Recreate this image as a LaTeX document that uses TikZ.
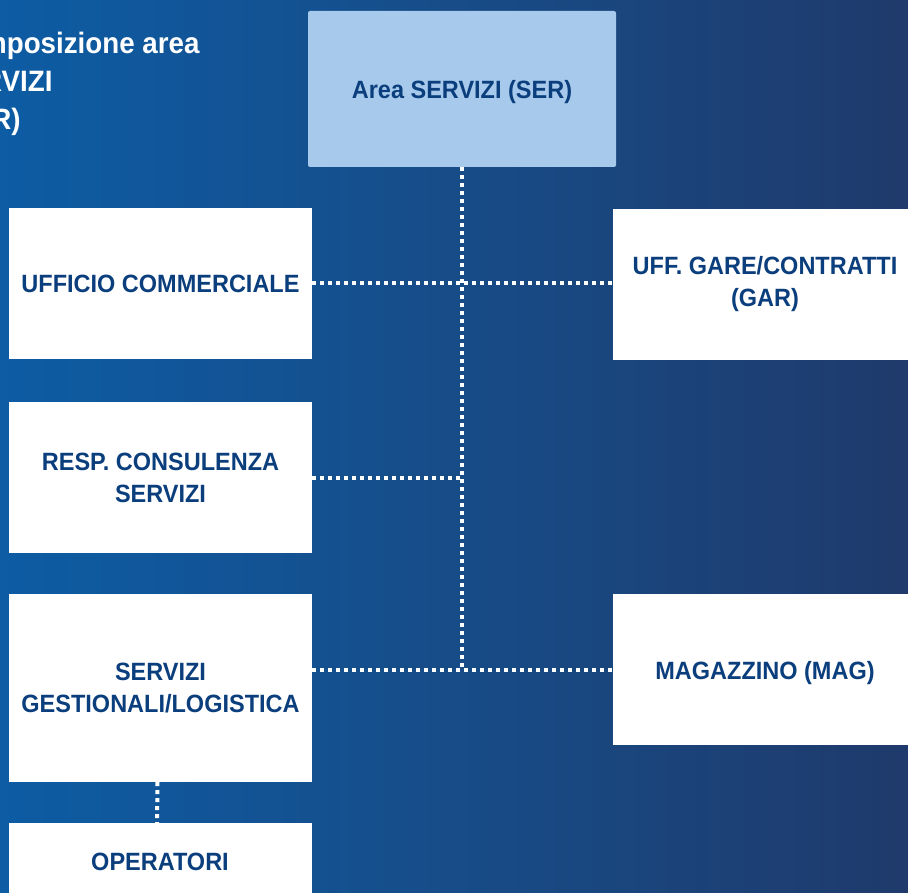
\documentclass[tikz,border=0pt]{standalone}
\usepackage{fontspec}
\setmainfont[FakeStretch=0.94]{Liberation Sans}
\definecolor{bgleft}{HTML}{0D5CA4}
\definecolor{bgmid}{HTML}{174C88}
\definecolor{bgright}{HTML}{1F3A6B}
\definecolor{topfill}{HTML}{A7CAEC}
\definecolor{txtblue}{HTML}{0B3E7C}
\tikzset{
  unitbox/.style={fill=white, draw=none, inner sep=0pt, align=center,
    text=txtblue, font=\bfseries\fontsize{25}{32}\selectfont},
  oneline/.style={text height=22pt, text depth=3pt},
  topbox/.style={fill=topfill, draw=none, rounded corners=2pt, inner sep=0pt, align=center,
    text=txtblue, font=\bfseries\fontsize{25}{32}\selectfont},
  link/.style={draw=white, line width=4pt, dash pattern=on 4pt off 4pt},
  titletext/.style={text=white, anchor=north west, align=left, inner sep=0pt,
    font=\bfseries\fontsize{29.5}{38}\selectfont}
}
\begin{document}
\begin{tikzpicture}[x=1pt,y=-1pt]
\useasboundingbox (0,0) rectangle (908,893);
\clip (0,0) rectangle (908,893);
\shade[left color=bgleft, right color=bgright, middle color=bgmid] (0,0) rectangle (908,893);

\node[titletext] (title) at (-55,32) {Composizione area\\SERVIZI\\(SER)};

\node[topbox, oneline, minimum width=308, minimum height=156] (top) at (462,89) {Area SERVIZI (SER)};

\node[unitbox, oneline, minimum width=303, minimum height=151] (uff) at (160.5,283.5) {UFFICIO COMMERCIALE};
\node[unitbox, minimum width=303, minimum height=151] (resp) at (160.5,477.5) {RESP. CONSULENZA\\SERVIZI};
\node[unitbox, minimum width=303, minimum height=188] (serv) at (160.5,688) {SERVIZI\\GESTIONALI/LOGISTICA};
\node[unitbox, oneline, minimum width=303, minimum height=76] (oper) at (160,861) {OPERATORI};
\node[unitbox, minimum width=304, minimum height=151] (gare) at (765,284.5) {UFF. GARE/CONTRATTI\\(GAR)};
\node[unitbox, oneline, minimum width=304, minimum height=151] (mag) at (765,669.5) {MAGAZZINO (MAG)};

\coordinate (spineend) at (top.south |- mag.west);
\coordinate (respjoin) at (top.south |- resp.east);

\draw[link] (top.south) -- (spineend);
\draw[link] (uff.east) -- (uff.east -| gare.west);
\draw[link] (resp.east) -- (respjoin);
\draw[link] (serv.east |- mag.west) -- (mag.west);
\draw[link] ([xshift=-3pt]serv.south) -- ([xshift=-3pt]oper.north);
\end{tikzpicture}
\end{document}
